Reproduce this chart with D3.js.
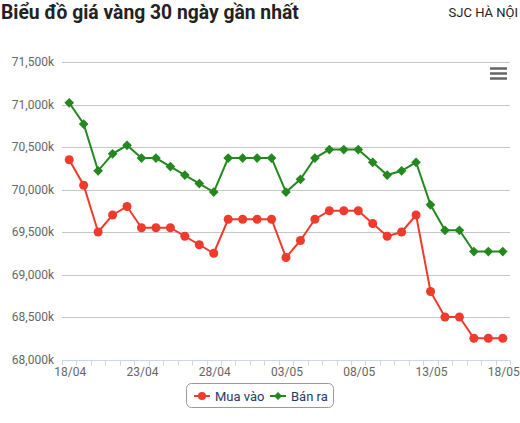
<!DOCTYPE html>
<html>
<head>
<meta charset="utf-8">
<script src="https://cdn.jsdelivr.net/npm/d3@7"></script>
<style>
  body { margin: 0; background: #fff; }
  svg { font-family: Roboto, "Noto Sans", sans-serif; }
</style>
</head>
<body>
<div id="chart"></div>
<script>
var dates = ['18/04','19/04','20/04','21/04','22/04','23/04','24/04','25/04','26/04','27/04',
    '28/04','29/04','30/04','01/05','02/05','03/05','04/05','05/05','06/05','07/05',
    '08/05','09/05','10/05','11/05','12/05','13/05','14/05','15/05','16/05','17/05','18/05'];

// Mua vao (buy), thousand VND
var buyValues = [70350, 70050, 69500, 69700, 69800, 69550, 69550, 69550, 69450, 69350,
    69250, 69650, 69650, 69650, 69650, 69200, 69400, 69650, 69750, 69750,
    69750, 69600, 69450, 69500, 69700, 68800, 68500, 68500, 68250, 68250, 68250];

// Ban ra (sell)
var sellValues = [71020, 70770, 70220, 70420, 70520, 70370, 70370, 70270, 70170, 70070,
    69970, 70370, 70370, 70370, 70370, 69970, 70120, 70370, 70470, 70470,
    70470, 70320, 70170, 70220, 70320, 69820, 69520, 69520, 69270, 69270, 69270];

var yTicks = [68000, 68500, 69000, 69500, 70000, 70500, 71000, 71500];

var series = [
    { name: 'Mua vào', values: buyValues, color: '#ef3a2c', marker: 'circle' },
    { name: 'Bán ra', values: sellValues, color: '#23891f', marker: 'diamond' }
];

var width = 520, height = 423;
var margin = { left: 62, right: 10, top: 62, bottom: 63 };

var svg = d3.select('#chart')
    .append('svg')
    .attr('width', width)
    .attr('height', height);

// title + subtitle
svg.append('text')
    .attr('x', 1)
    .attr('y', 19)
    .style('font-size', '19.3px')
    .style('font-weight', 'bold')
    .style('fill', '#222')
    .text('Biểu đồ giá vàng 30 ngày gần nhất');

svg.append('text')
    .attr('x', 518)
    .attr('y', 17)
    .attr('text-anchor', 'end')
    .style('font-size', '13px')
    .style('fill', '#222')
    .text('SJC HÀ NỘI');

var x = d3.scaleBand()
    .domain(dates)
    .range([margin.left, width - margin.right]);

var y = d3.scaleLinear()
    .domain([68000, 71500])
    .range([height - margin.bottom - 0.5, margin.top]);

var fmt = d3.format(',');

// gridlines
svg.append('g')
    .selectAll('line')
    .data(yTicks.slice(1))
    .enter()
    .append('line')
    .attr('x1', margin.left)
    .attr('x2', width - margin.right)
    .attr('y1', function(d){ return Math.round(y(d)) + 0.5; })
    .attr('y2', function(d){ return Math.round(y(d)) + 0.5; })
    .style('stroke', '#c6c6c6')
    .style('stroke-width', 1);

// y labels
svg.append('g')
    .selectAll('text')
    .data(yTicks)
    .enter()
    .append('text')
    .attr('x', 54)
    .attr('y', function(d){ return y(d) + 4; })
    .attr('text-anchor', 'end')
    .style('font-size', '12px')
    .style('fill', '#666')
    .text(function(d){ return fmt(d) + 'k'; });

// x axis
var xAxis = svg.append('g')
    .attr('transform', 'translate(0,' + (Math.round(y(68000)) + 0.5) + ')');

xAxis.append('line')
    .attr('x1', margin.left)
    .attr('x2', width - margin.right)
    .style('stroke', '#ccd6eb');

var edges = dates.map(function(d){ return x(d); }).concat([width - margin.right]);
xAxis.selectAll('.tick')
    .data(edges)
    .enter()
    .append('line')
    .attr('x1', function(d){ return Math.round(d) + 0.5; })
    .attr('x2', function(d){ return Math.round(d) + 0.5; })
    .attr('y1', 0)
    .attr('y2', 5)
    .style('stroke', '#ccd6eb');

xAxis.selectAll('.xlab')
    .data(dates.filter(function(d, i){ return i % 5 === 0; }))
    .enter()
    .append('text')
    .attr('x', function(d){ return x(d) + x.bandwidth() / 2 + 1; })
    .attr('y', 15)
    .attr('text-anchor', 'middle')
    .style('font-size', '12px')
    .style('fill', '#666')
    .text(function(d){ return d; });

// lines + markers
var line = d3.line()
    .x(function(d, i){ return x(dates[i]) + x.bandwidth() / 2; })
    .y(function(d){ return y(d); });

var diamond = d3.symbol().type(d3.symbolDiamond2).size(60);

series.forEach(function(s){
    var g = svg.append('g');
    g.append('path')
        .attr('d', line(s.values))
        .style('fill', 'none')
        .style('stroke', s.color)
        .style('stroke-width', 2);

    var pts = g.selectAll('.pt')
        .data(s.values)
        .enter();
    if (s.marker === 'circle') {
        pts.append('circle')
            .attr('cx', function(d, i){ return x(dates[i]) + x.bandwidth() / 2; })
            .attr('cy', function(d){ return y(d); })
            .attr('r', 4.5)
            .style('fill', s.color);
    } else {
        pts.append('path')
            .attr('d', diamond)
            .attr('transform', function(d, i){
                return 'translate(' + (x(dates[i]) + x.bandwidth() / 2) + ',' + y(d) + ')';
            })
            .style('fill', s.color);
    }
});

// menu icon
svg.append('g')
    .selectAll('line')
    .data([0, 5, 10])
    .enter()
    .append('line')
    .attr('x1', 490)
    .attr('x2', 507)
    .attr('y1', function(d){ return 68.5 + d; })
    .attr('y2', function(d){ return 68.5 + d; })
    .style('stroke', '#666')
    .style('stroke-width', 2.5);

// legend
var legend = svg.append('g');
legend.append('rect')
    .attr('x', 186.5)
    .attr('y', 383.5)
    .attr('width', 147)
    .attr('height', 24)
    .attr('rx', 5)
    .style('fill', '#fff')
    .style('stroke', '#999');

var legX = [194, 270];
series.forEach(function(s, i){
    var lg = legend.append('g')
        .attr('transform', 'translate(' + legX[i] + ',396)');
    lg.append('line')
        .attr('x1', 0)
        .attr('x2', 16)
        .style('stroke', s.color)
        .style('stroke-width', 2);
    if (s.marker === 'circle') {
        lg.append('circle').attr('cx', 8).attr('r', 4).style('fill', s.color);
    } else {
        lg.append('path')
            .attr('d', d3.symbol().type(d3.symbolDiamond2).size(40))
            .attr('transform', 'translate(8,0)')
            .style('fill', s.color);
    }
    lg.append('text')
        .attr('x', 21)
        .attr('y', 4.5)
        .style('font-size', '13px')
        .style('fill', '#253c66')
        .text(s.name);
});
</script>
</body>
</html>
